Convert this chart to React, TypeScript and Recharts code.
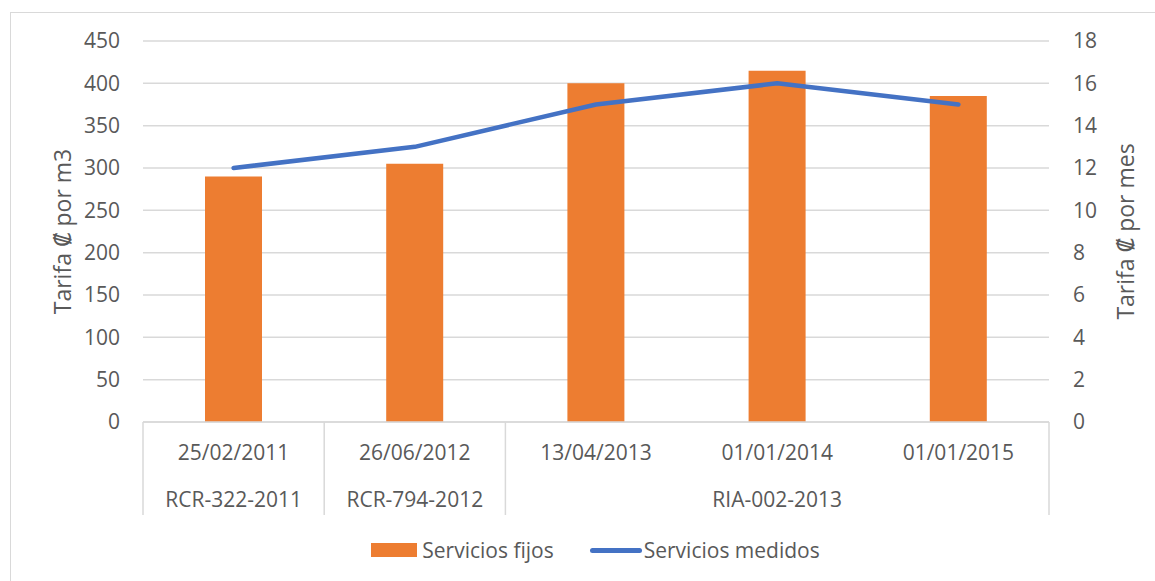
import React from 'react';
import { ComposedChart, Bar, Line, XAxis, YAxis, CartesianGrid, Legend } from 'recharts';

const categories = ['25/02/2011', '26/06/2012', '13/04/2013', '01/01/2014', '01/01/2015'];
const groups = ['RCR-322-2011', 'RCR-794-2012', 'RIA-002-2013', 'RIA-002-2013', 'RIA-002-2013'];
const serviciosFijos = [290, 305, 400, 415, 385];
const serviciosMedidos = [12, 13, 15, 16, 15];
const leftTicks = [0, 50, 100, 150, 200, 250, 300, 350, 400, 450];
const rightTicks = [0, 2, 4, 6, 8, 10, 12, 14, 16, 18];

const data = categories.map((c, i) => ({
  date: c,
  group: groups[i],
  fijos: serviciosFijos[i],
  medidos: serviciosMedidos[i],
}));

const W = 1155;
const H = 581;
const LEFT_W = 143;
const RIGHT_W = 106;
const PLOT_W = W - LEFT_W - RIGHT_W;
const BAND = PLOT_W / categories.length;
const TEXT = '#595959';
const GRID = '#d9d9d9';
const FONT = "'Open Sans', 'DejaVu Sans', sans-serif";

// group spans
const spans: { label: string; start: number; end: number }[] = [];
groups.forEach((g, i) => {
  const last = spans[spans.length - 1];
  if (last && last.label === g) last.end = i;
  else spans.push({ label: g, start: i, end: i });
});

const XTick = (props: any) => {
  const { x, y, index, payload } = props;
  const axisY = y - 8;
  const half = BAND / 2;
  const span = spans.find((s) => s.start === index);
  const isLast = index === categories.length - 1;
  return (
    <g>
      <text x={x} y={axisY + 38} textAnchor="middle" fill={TEXT} fontSize={21} fontFamily={FONT}>
        {payload.value}
      </text>
      {span && (
        <>
          <line x1={x - half} x2={x - half} y1={axisY} y2={axisY + 93} stroke={GRID} strokeWidth={1.5} />
          <text
            x={x + ((span.start + span.end) / 2 - index) * BAND}
            y={axisY + 85}
            textAnchor="middle"
            fill={TEXT}
            fontSize={21}
            fontFamily={FONT}
          >
            {span.label}
          </text>
        </>
      )}
      {isLast && <line x1={x + half} x2={x + half} y1={axisY} y2={axisY + 93} stroke={GRID} strokeWidth={1.5} />}
    </g>
  );
};

const LegendContent = () => (
  <div
    style={{
      display: 'flex',
      justifyContent: 'center',
      alignItems: 'center',
      height: 40,
      paddingLeft: 36,
      fontFamily: FONT,
      fontSize: 21,
      color: TEXT,
    }}
  >
    <div style={{ width: 46, height: 14, background: '#ED7D31', marginRight: 5 }} />
    <span style={{ marginRight: 36 }}>Servicios fijos</span>
    <div style={{ width: 52, height: 5, borderRadius: 3, background: '#4472C4', marginRight: 2 }} />
    <span>Servicios medidos</span>
  </div>
);

const leftLabel = (props: any) => {
  const vb = props.viewBox;
  const cx = vb.x + 62;
  const cy = vb.y + vb.height / 2;
  return (
    <text x={cx} y={cy} transform={`rotate(-90 ${cx} ${cy})`} textAnchor="middle" dominantBaseline="central" fill={TEXT} fontSize={23} fontFamily={FONT}>
      Tarifa ₡ por m3
    </text>
  );
};

const rightLabel = (props: any) => {
  const vb = props.viewBox;
  const cx = vb.x + 76;
  const cy = vb.y + vb.height / 2;
  return (
    <text x={cx} y={cy} transform={`rotate(-90 ${cx} ${cy})`} textAnchor="middle" dominantBaseline="central" fill={TEXT} fontSize={23} fontFamily={FONT}>
      Tarifa ₡ por mes
    </text>
  );
};

export default function App() {
  return (
    <div style={{ position: 'fixed', left: 0, top: 0, width: W, height: H, background: '#fff' }}>
      <div
        style={{
          position: 'fixed',
          left: 10,
          top: 12,
          width: 1160,
          height: 590,
          border: `1.5px solid ${GRID}`,
          boxSizing: 'border-box',
        }}
      />
      <ComposedChart
        width={W}
        height={H}
        data={data}
        margin={{ top: 41, right: 0, bottom: 11, left: 0 }}
        style={{ position: 'absolute', left: 0, top: 0 }}
      >
        <CartesianGrid yAxisId="left" vertical={false} stroke={GRID} strokeWidth={1.5} />
        <XAxis
          dataKey="date"
          height={108}
          tickLine={false}
          axisLine={{ stroke: GRID, strokeWidth: 1.5 }}
          interval={0}
          tick={<XTick />}
        />
        <YAxis
          yAxisId="left"
          orientation="left"
          width={LEFT_W}
          domain={[0, 450]}
          ticks={leftTicks}
          interval={0}
          tickLine={false}
          axisLine={false}
          tickMargin={17}
          tick={{ fill: TEXT, fontSize: 21, fontFamily: FONT }}
          label={{ content: leftLabel }}
        />
        <YAxis
          yAxisId="right"
          orientation="right"
          width={RIGHT_W}
          domain={[0, 18]}
          ticks={rightTicks}
          interval={0}
          tickLine={false}
          axisLine={false}
          tickMargin={18}
          tick={{ fill: TEXT, fontSize: 21, fontFamily: FONT }}
          label={{ content: rightLabel }}
        />
        <Bar yAxisId="left" dataKey="fijos" name="Servicios fijos" fill="#ED7D31" barSize={57} isAnimationActive={false} />
        <Line
          yAxisId="right"
          dataKey="medidos"
          name="Servicios medidos"
          type="linear"
          stroke="#4472C4"
          strokeWidth={4.5}
          strokeLinecap="round"
          strokeLinejoin="round"
          dot={false}
          activeDot={false}
          isAnimationActive={false}
        />
        <Legend verticalAlign="bottom" height={40} content={<LegendContent />} />
      </ComposedChart>
    </div>
  );
}
